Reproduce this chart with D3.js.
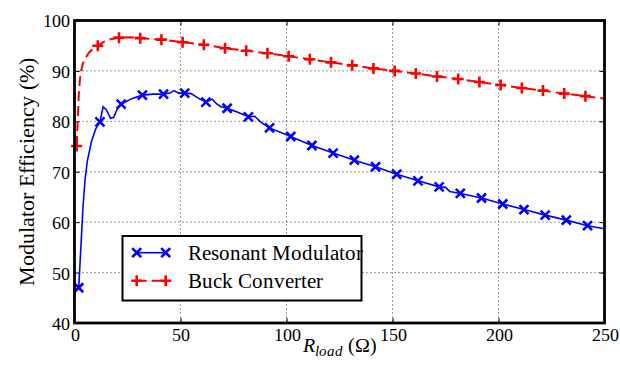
<!DOCTYPE html>
<html><head><meta charset="utf-8">
<script src="https://cdn.jsdelivr.net/npm/d3@7"></script>
<style>
@font-face { font-family: ChartSerif; src: local("Liberation Serif"), local("LiberationSerif"); font-style: normal; font-weight: 400; }
@font-face { font-family: ChartSerif; src: local("Liberation Serif Italic"), local("LiberationSerif-Italic"); font-style: italic; font-weight: 400; }
body { margin:0; font-family: ChartSerif, "Liberation Serif", serif; }
</style>
</head><body>
<svg id="chart" width="620" height="365"></svg>
<script>
// ---- data ----
const resonantLineX = [2,3,4,5,6,8,10,12,13.5,15,17,18.5,20,22,27,32,37,42,45,47,49,52,55,58,62,65,67,69,72,77,82,85,88,92,102,112,122,132,142,152,162,172,175,177,182,192,202,212,222,232,242,250];
const resonantLineY = [47,55,63,68.5,72,76,78.5,79.9,82.9,82.3,80.6,80.8,82.3,83.4,84.5,85.2,85.4,85.4,85.6,86.1,85.6,85.6,85.5,84.7,83.8,84.4,83.5,82.9,82.6,81.8,80.9,81.0,79.8,78.7,77.0,75.2,73.7,72.3,71.0,69.5,68.2,67.0,66.9,66.1,65.7,64.8,63.6,62.5,61.4,60.4,59.3,58.7];
const resonantMarkX = [2,12,22,32,42,52,62,72,82,92,102,112,122,132,142,152,162,172,182,192,202,212,222,232,242];
const resonantMarkY = [47.0,79.9,83.4,85.2,85.4,85.6,83.8,82.6,80.9,78.7,77.0,75.2,73.7,72.3,71.0,69.5,68.2,67.0,65.7,64.8,63.6,62.5,61.4,60.4,59.3];
const buckLineX = [1,1.5,2,2.5,3,4,5,7,9,11,14,17,21,26,31,41,51,61,71,81,91,101,111,121,131,141,151,161,171,181,191,201,211,221,231,241,250];
const buckLineY = [75.1,80,85,88,89.8,91.5,92.5,93.7,94.5,95.0,95.8,96.3,96.6,96.7,96.5,96.2,95.7,95.2,94.5,94.0,93.5,92.9,92.3,91.7,91.1,90.5,90.0,89.5,88.9,88.4,87.8,87.2,86.6,86.1,85.5,85.0,84.5];
const buckMarkX = [1,11,21,31,41,51,61,71,81,91,101,111,121,131,141,151,161,171,181,191,201,211,221,231,241];
const buckMarkY = [75.1,95.0,96.6,96.5,96.2,95.7,95.2,94.5,94.0,93.5,92.9,92.3,91.7,91.1,90.5,90.0,89.5,88.9,88.4,87.8,87.2,86.6,86.1,85.5,85.0];
const xTicks = [0,50,100,150,200,250];
const yTicks = [40,50,60,70,80,90,100];
const seriesNames = ["Resonant Modulator","Buck Converter"];
const xLabelMain = "R", xLabelSub = "load", xLabelTail = " (Ω)";
const yLabel = "Modulator Efficiency (%)";

// ---- drawing ----
const FONT = "ChartSerif, Liberation Serif, serif";
const m = {left:74.5, right:604.5, top:20.5, bottom:323};
const svg = d3.select("#chart").attr("font-family",FONT);
const x = d3.scaleLinear().domain([0,250]).range([m.left,m.right]);
const y = d3.scaleLinear().domain([40,100]).range([m.bottom,m.top]);

// grid
const grid = svg.append("g");
xTicks.slice(1,-1).forEach(t=>grid.append("line").attr("x1",x(t)).attr("x2",x(t)).attr("y1",m.top).attr("y2",m.bottom)
  .attr("stroke","#333").attr("stroke-width",1).attr("stroke-dasharray","1,3"));
yTicks.slice(1,-1).forEach(t=>grid.append("line").attr("x1",m.left).attr("x2",m.right).attr("y1",y(t)).attr("y2",y(t))
  .attr("stroke","#333").attr("stroke-width",1).attr("stroke-dasharray","1,3"));

// axes
const fs = 18;
const xAxis = svg.append("g").attr("transform",`translate(0,${m.bottom})`)
  .call(d3.axisBottom(x).tickValues(xTicks).tickSize(-5).tickPadding(5).tickFormat(d3.format("d")));
const xAxisTop = svg.append("g").attr("transform",`translate(0,${m.top})`)
  .call(d3.axisTop(x).tickValues(xTicks).tickSize(-5).tickFormat(""));
const yAxis = svg.append("g").attr("transform",`translate(${m.left},0)`)
  .call(d3.axisLeft(y).tickValues(yTicks).tickSize(-5).tickPadding(5).tickFormat(d3.format("d")));
const yAxisR = svg.append("g").attr("transform",`translate(${m.right},0)`)
  .call(d3.axisRight(y).tickValues(yTicks).tickSize(-5).tickFormat(""));
[xAxis,xAxisTop,yAxis,yAxisR].forEach(g=>{
  g.attr("font-family",FONT).attr("font-size",fs);
  g.select(".domain").remove();
  g.selectAll(".tick line").attr("stroke","#000").attr("stroke-width",1);
  g.selectAll("text").attr("fill","#000").attr("font-size",fs);
});
yAxis.selectAll("text").attr("dy","0.36em");

// clip
svg.append("clipPath").attr("id","clip").append("rect").attr("x",m.left).attr("y",m.top).attr("width",m.right-m.left).attr("height",m.bottom-m.top);
const plot = svg.append("g").attr("clip-path","url(#clip)");
const line = d3.line().x(d=>x(d[0])).y(d=>y(d[1]));

const blue = "#0000ff", red = "#ff0000";
plot.append("path").datum(resonantLineX.map((v,i)=>[v,resonantLineY[i]])).attr("d",line)
  .attr("fill","none").attr("stroke",blue).attr("stroke-width",1.6);
plot.append("path").datum(buckLineX.map((v,i)=>[v,buckLineY[i]])).attr("d",line)
  .attr("fill","none").attr("stroke",red).attr("stroke-width",2).attr("stroke-dasharray","10,5");

function xMark(g,cx,cy,s,col){
  g.append("path").attr("d",`M${cx-s},${cy-s}L${cx+s},${cy+s}M${cx-s},${cy+s}L${cx+s},${cy-s}`)
   .attr("stroke",col).attr("stroke-width",2.6).attr("fill","none");
}
function pMark(g,cx,cy,s,col){
  g.append("path").attr("d",`M${cx-s},${cy}L${cx+s},${cy}M${cx},${cy-s}L${cx},${cy+s}`)
   .attr("stroke",col).attr("stroke-width",2.6).attr("fill","none");
}
const mk = svg.append("g");
resonantMarkX.forEach((v,i)=>xMark(mk,x(v),y(resonantMarkY[i]),4.5,blue));
buckMarkX.forEach((v,i)=>pMark(mk,x(v),y(buckMarkY[i]),5.5,red));

// frame
svg.append("rect").attr("x",m.left).attr("y",m.top).attr("width",m.right-m.left).attr("height",m.bottom-m.top)
  .attr("fill","none").attr("stroke","#000").attr("stroke-width",2.8);

// labels
const xl = svg.append("text").attr("x",(m.left+m.right)/2).attr("y",352).attr("text-anchor","middle").attr("font-size",20);
xl.append("tspan").attr("font-style","italic").text(xLabelMain);
xl.append("tspan").attr("font-style","italic").attr("font-size",15).attr("dy",4).text(xLabelSub);
xl.append("tspan").attr("dy",-4).text(xLabelTail);
svg.append("text").attr("transform",`translate(34,${(m.top+m.bottom)/2}) rotate(-90)`).attr("text-anchor","middle")
  .attr("font-size",21.5).text(yLabel);

// legend
const lg = svg.append("g");
lg.append("rect").attr("x",122.5).attr("y",236).attr("width",239).attr("height",64.5)
  .attr("fill","#fff").attr("stroke","#000").attr("stroke-width",2);
const rows = [{c:blue,dash:null,mark:xMark,w:1.6,s:4.5},{c:red,dash:"10,5",mark:pMark,w:2,s:5.5}];
rows.forEach((r,i)=>{
  const yy = 252.7 + i*28;
  lg.append("line").attr("x1",136.7).attr("x2",165.7).attr("y1",yy).attr("y2",yy).attr("stroke",r.c).attr("stroke-width",r.w)
    .attr("stroke-dasharray",r.dash);
  r.mark(lg,136.7,yy,r.s,r.c); r.mark(lg,165.7,yy,r.s,r.c);
  lg.append("text").attr("x",188).attr("y",yy+7).attr("font-size",20.5).text(seriesNames[i]);
});

svg.selectAll("text, tspan").attr("font-family",FONT);
</script></body></html>
